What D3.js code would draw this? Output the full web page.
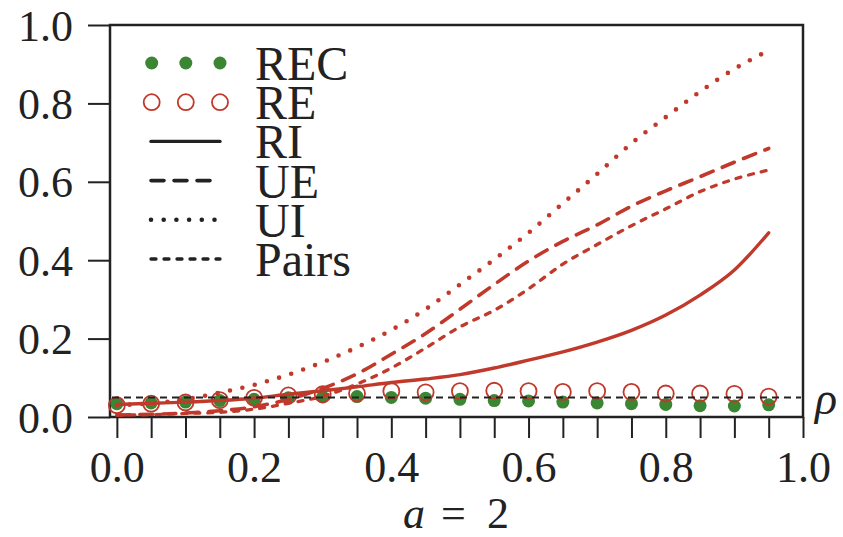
<!DOCTYPE html>
<html>
<head>
<meta charset="utf-8">
<script src="https://cdn.jsdelivr.net/npm/d3@7"></script>
</head>
<body style="margin:0">
<svg id="chart" width="843" height="537"></svg>
<script>
// rho values, 0.00 .. 0.95
const rho = [0, 0.05, 0.1, 0.15, 0.2, 0.25, 0.3, 0.35, 0.4, 0.45, 0.5, 0.55, 0.6, 0.65, 0.7, 0.75, 0.8, 0.85, 0.9, 0.95]

const rec = [0.034, 0.036, 0.038, 0.042, 0.045, 0.049, 0.051, 0.052, 0.050, 0.048, 0.045, 0.042, 0.041, 0.038, 0.036, 0.034, 0.032, 0.029, 0.028, 0.031]
const re = [0.030, 0.034, 0.037, 0.043, 0.049, 0.055, 0.058, 0.060, 0.066, 0.063, 0.066, 0.067, 0.066, 0.064, 0.066, 0.064, 0.060, 0.060, 0.059, 0.052]
const ri = [0.032, 0.035, 0.038, 0.042, 0.048, 0.058, 0.067, 0.077, 0.088, 0.097, 0.108, 0.125, 0.145, 0.166, 0.191, 0.221, 0.260, 0.311, 0.375, 0.470]
const ue = [0.005, 0.007, 0.010, 0.016, 0.026, 0.045, 0.073, 0.110, 0.160, 0.213, 0.275, 0.338, 0.398, 0.448, 0.490, 0.538, 0.577, 0.613, 0.650, 0.685]
const ui = [0.030, 0.035, 0.045, 0.062, 0.082, 0.108, 0.140, 0.178, 0.222, 0.275, 0.338, 0.402, 0.470, 0.545, 0.620, 0.698, 0.765, 0.830, 0.888, 0.935]
const pairs = [0.005, 0.006, 0.009, 0.012, 0.020, 0.035, 0.053, 0.084, 0.125, 0.176, 0.230, 0.272, 0.327, 0.390, 0.440, 0.488, 0.531, 0.575, 0.607, 0.630]
const alpha_level = 0.05

const x_ticks = d3.range(0, 1.0001, 0.05)
const x_labels = [0, 0.2, 0.4, 0.6, 0.8, 1.0]
const y_ticks = [0, 0.2, 0.4, 0.6, 0.8, 1.0]

const legend_names = ["REC", "RE", "RI", "UE", "UI", "Pairs"]

const red = "#c0392b"
const green = "#3a8633"
const ink = "#222"
const serif = "'Liberation Serif', 'Times New Roman', Tinos, FreeSerif, 'DejaVu Serif', serif"

const styles = {
	RI: { dash: null, width: 3.4 },
	UE: { dash: "13,10", width: 3.6 },
	UI: { dash: "0,12.7", width: 4.6 },
	Pairs: { dash: "5,8", width: 3.3 }
}

function serif_text(sel, size) {
	return sel.attr("font-family", serif).attr("font-size", size).attr("fill", ink)
}

const svg = d3.select("#chart").attr("font-family", serif)
const x = d3.scaleLinear().domain([-0.01, 1.0]).range([110, 803])
const y = d3.scaleLinear().domain([0, 1]).range([417, 25])

// axes
const xAxis = d3.axisBottom(x)
	.tickValues(x_ticks)
	.tickSize(21)
	.tickFormat(d => x_labels.some(v => Math.abs(v - d) < 1e-6) ? d.toFixed(1) : "")
const gx = svg.append("g")
	.attr("transform", "translate(0," + y(0) + ")")
	.call(xAxis)
gx.attr("font-family", serif).attr("font-size", 44)
gx.select(".domain").remove()
gx.selectAll(".tick line").attr("stroke", ink).attr("stroke-width", 2)
serif_text(gx.selectAll("text").attr("y", 65).attr("dy", null), 44)

const yAxis = d3.axisLeft(y)
	.tickValues(y_ticks)
	.tickSize(22)
	.tickFormat(d => d.toFixed(1))
const gy = svg.append("g")
	.attr("transform", "translate(" + x(-0.01) + ",0)")
	.call(yAxis)
gy.attr("font-family", serif).attr("font-size", 44)
gy.select(".domain").remove()
gy.selectAll(".tick line").attr("stroke", ink).attr("stroke-width", 2)
serif_text(gy.selectAll("text").attr("x", -37).attr("dy", 15), 44)

// frame
svg.append("rect")
	.attr("x", x(-0.01)).attr("y", y(1))
	.attr("width", x(1.0) - x(-0.01)).attr("height", y(0) - y(1))
	.attr("fill", "none").attr("stroke", ink).attr("stroke-width", 2.5)

// markers
const plot = svg.append("g")
plot.selectAll("circle.rec").data(rec).join("circle")
	.attr("class", "rec")
	.attr("cx", (d, i) => x(rho[i])).attr("cy", d => y(d))
	.attr("r", 6.5).attr("fill", green)

plot.selectAll("circle.re").data(re).join("circle")
	.attr("class", "re")
	.attr("cx", (d, i) => x(rho[i])).attr("cy", d => y(d))
	.attr("r", 8).attr("fill", "none").attr("stroke", red).attr("stroke-width", 1.8)

// curves
const line = d3.line().x((d, i) => x(rho[i])).y(d => y(d)).curve(d3.curveMonotoneX)
const series = [["RI", ri], ["UE", ue], ["UI", ui], ["Pairs", pairs]]
series.forEach(([name, vals]) => {
	plot.append("path")
		.attr("d", line(vals))
		.attr("fill", "none")
		.attr("stroke", red)
		.attr("stroke-width", styles[name].width)
		.attr("stroke-linecap", "round")
		.attr("stroke-dasharray", styles[name].dash)
})

// 0.05 reference line
plot.append("line")
	.attr("x1", x(-0.01) + 2).attr("x2", x(1.0) - 2)
	.attr("y1", y(alpha_level)).attr("y2", y(alpha_level))
	.attr("stroke", ink).attr("stroke-width", 2).attr("stroke-dasharray", "7,5")

// legend
const leg = svg.append("g")
const leg_top = 63, leg_gap = 39.2
legend_names.forEach((name, i) => {
	const cy = leg_top + i * leg_gap
	if (name === "REC") {
		[151.7, 185.8, 220].forEach(cx => leg.append("circle")
			.attr("cx", cx).attr("cy", cy).attr("r", 6.5).attr("fill", green))
	} else if (name === "RE") {
		[151.7, 185.8, 220].forEach(cx => leg.append("circle")
			.attr("cx", cx).attr("cy", cy).attr("r", 8).attr("fill", "none")
			.attr("stroke", red).attr("stroke-width", 1.8))
	} else {
		leg.append("line")
			.attr("x1", 151).attr("x2", 220)
			.attr("y1", cy).attr("y2", cy)
			.attr("stroke", ink)
			.attr("stroke-width", styles[name].width)
			.attr("stroke-linecap", "round")
			.attr("stroke-dasharray", styles[name].dash)
	}
	serif_text(leg.append("text"), 48)
		.attr("x", 255).attr("y", cy + 17)
		.text(name)
})

// axis titles
serif_text(svg.append("text"), 46)
	.attr("x", 815).attr("y", 414)
	.attr("font-style", "italic")
	.text("ρ")

const xt = serif_text(svg.append("text"), 44).attr("y", 528)
xt.append("tspan").attr("x", 403).attr("font-style", "italic").text("a")
xt.append("tspan").attr("x", 441).text("=")
xt.append("tspan").attr("x", 487).text("2")
</script>
</body>
</html>
